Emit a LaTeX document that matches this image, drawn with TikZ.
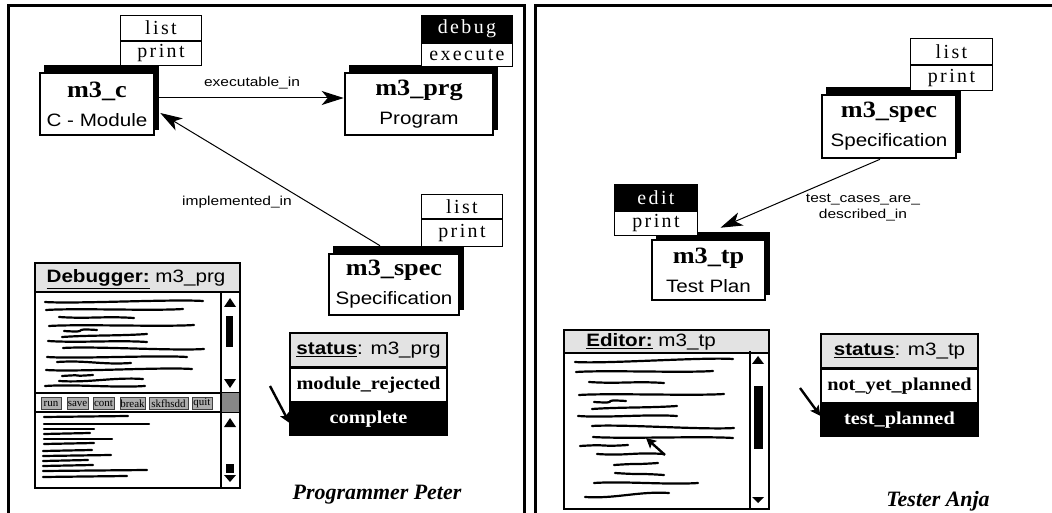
\documentclass[tikz,border=0pt]{standalone}
\usepackage{fontspec}
\setmainfont{Liberation Serif}
\setsansfont{Liberation Sans}[FakeStretch=1.15]
\newfontfamily\menufont{Liberation Serif}[LetterSpace=12]
\newfontfamily\objfont{Liberation Serif}[FakeStretch=1.12]
\newfontfamily\lblfont{Liberation Sans}[FakeStretch=1.2]
\usetikzlibrary{arrows.meta,backgrounds,calc}
\definecolor{titlegray}{gray}{0.89}
\definecolor{btngray}{gray}{0.68}
\definecolor{sqgray}{gray}{0.53}
\newcommand\objtitle[1]{{\objfont\bfseries\fontsize{23.5}{23.5}\selectfont #1}}
\newcommand\objkind[1]{{\sffamily\fontsize{18}{18}\selectfont #1}}
\newcommand\scrl[4]{\draw[scribble] (#1,#2) .. controls +(30,2) and +(-30,-2) .. (#3,#4);}
\newcommand\scrr[4]{\draw[scribble] (#1,#2) .. controls +(30,-2) and +(-30,2) .. (#3,#4);}
\begin{document}
\begin{tikzpicture}[x=1bp,y=-1bp,
  panel/.style={draw, line width=3bp},
  objbox/.style={draw, line width=2.6bp, fill=white, minimum width=#1, inner sep=0pt, align=center, font=\fontsize{18}{29}\selectfont},
  menuitem/.style={draw, line width=1bp, fill=white, text=black, minimum width=#1, minimum height=25bp, inner sep=0pt, anchor=north west, font=\menufont\fontsize{20}{20}\selectfont},
  menusel/.style={menuitem=#1, fill=black, text=white},
  conn/.style={line width=1bp, -{Stealth[length=22bp,width=14bp,inset=6bp]}},
  lbl/.style={font=\lblfont\fontsize{13}{17}\selectfont, anchor=base, align=center},
  ptr/.style={line width=2.4bp, -{Stealth[length=10bp,width=10bp,inset=2bp]}},
  sttitle/.style={draw, line width=1.2bp, fill=titlegray, minimum width=157bp, minimum height=34bp, inner sep=0pt, font=\sffamily\fontsize{18}{18}\selectfont},
  strow/.style={draw, line width=1.2bp, fill=white, text=black, minimum width=157bp, minimum height=33bp, inner sep=0pt, anchor=north, font=\objfont\bfseries\fontsize{18.2}{18.2}\selectfont},
  strowsel/.style={strow, fill=black, text=white},
  winframe/.style={draw, line width=2.6bp},
  windiv/.style={line width=1.4bp},
  wintitle/.style={font=\sffamily\fontsize{18}{18}\selectfont, inner sep=0pt},
  btn/.style={draw=black!75, line width=0.9bp, fill=btngray, minimum height=12bp, inner sep=0pt, font=\rmfamily\fontsize{11}{11}\selectfont},
  scribble/.style={line width=2.2bp, line cap=round},
  who/.style={font=\rmfamily\bfseries\itshape\fontsize{22}{22}\selectfont, anchor=base}
]
\useasboundingbox (0,0) rectangle (1052,513);
\begin{scope}
\clip (0,0) rectangle (1052,513);
% panels
\draw[panel] (8.7,6) rectangle (524.5,530);
\draw[panel] (535.5,6) rectangle (1070,530);

% ================= left panel =================
\node[objbox=114bp, minimum height=62bp] (mc) at (97,104) {\objtitle{m3\_c}\\\objkind{C - Module}};
\node[objbox=148bp, minimum height=62bp] (prg) at (419,104) {\objtitle{m3\_prg}\\\objkind{Program}};
\node[objbox=130bp, minimum height=61bp] (spec1) at (394,284.5) {\objtitle{m3\_spec}\\\objkind{Specification}};

\node[menuitem=81bp] (mclist) at (120,15) {list};
\node[menuitem=81bp, minimum height=24bp] (mcprint) at (mclist.south west) {print};
\node[menusel=91bp, minimum height=27bp] (prgdebug) at (421,15) {debug};
\node[menuitem=91bp, minimum height=23bp] (prgexec) at (prgdebug.south west) {execute};
\node[menuitem=81bp, minimum height=24bp] (s1list) at (421,194) {list};
\node[menuitem=81bp, minimum height=27bp] (s1print) at (s1list.south west) {print};

\draw[conn] ([xshift=2bp,yshift=6bp]mc.east) -- ([yshift=6bp]prg.west);
\node[lbl] (lexe) at (252,87) {executable\_in};
\draw[conn] ([xshift=-14bp,yshift=7bp]spec1.north) -- ([xshift=5bp,yshift=-9bp]mc.east);
\node[lbl] (limpl) at (237,206) {implemented\_in};

% debugger window
\fill[titlegray] (35,263) rectangle (240,292);
\draw[windiv] (35,292) -- (240,292);
\draw[windiv] (35,393) -- (240,393);
\draw[windiv] (35,412) -- (240,412);
\fill[sqgray] (221,393) rectangle (240,412);
\draw[line width=1.2bp] (221,292) -- (221,488);
\draw[winframe] (35,263) rectangle (240,488);
\node[wintitle] (dbgtitle) at (136,279) {\underline{\textbf{Debugger:}} m3\_prg};
\fill (224,307) -- (236,307) -- (230,298) -- cycle;
\fill (226,316) rectangle (233,347);
\fill (224,379) -- (236,379) -- (230,388) -- cycle;
\fill (224,427) -- (236,427) -- (230,418) -- cycle;
\fill (226,464) rectangle (234,473);
\fill (224,475) -- (236,475) -- (230,482) -- cycle;
\node[btn, minimum width=20bp] (brun) at (51,403.5) {run};
\node[btn, minimum width=21bp] (bsave) at (77.5,403.5) {save};
\node[btn, minimum width=21bp] (bcont) at (103.5,403.5) {cont};
\node[btn, minimum width=25bp] (bbreak) at (132.5,403.5) {break};
\node[btn, minimum width=39bp] (bskf) at (168.5,403.5) {skfhsdd};
\node[btn, minimum width=20bp] (bquit) at (202,403.5) {quit};
% upper pane scribbles
\scrl{45}{302}{203}{301}
\scrr{46}{310}{183}{309}
\scrl{59}{317}{134}{318}
\scrr{49}{326}{194}{325}
\scrl{64}{331}{97}{330}
\scrr{62}{337}{147}{334}
\scrl{48}{341}{147}{342}
\scrr{63}{348}{204}{349}
\scrl{47}{357}{187}{357}
\scrr{57}{362}{131}{363}
\scrl{46}{370}{192}{369}
\scrr{62}{376}{93}{375}
\scrl{59}{381}{143}{379}
\scrr{45}{386}{145}{386}
% lower pane scribbles
\draw[scribble] (44,417) -- (128,416);
\draw[scribble] (44,424) -- (149,424);
\draw[scribble] (44,429) -- (94,429);
\draw[scribble] (44,434) -- (90,433);
\draw[scribble] (44,439) -- (112,439);
\draw[scribble] (44,444) -- (94,443);
\draw[scribble] (43,451) -- (92,450);
\draw[scribble] (43,456) -- (111,455);
\draw[scribble] (43,461) -- (88,460);
\draw[scribble] (43,466) -- (93,465);
\draw[scribble] (43,471) -- (147,470);
\draw[scribble] (43,477) -- (127,476);

% status box left
\node[sttitle] (lst) at (368.5,350) {\underline{\textbf{status}}: m3\_prg};
\node[strow] (lrej) at (lst.south) {module\_rejected};
\node[strowsel] (lcomp) at (lrej.south) {complete};
\coordinate (lptr) at (270,386);
\draw[ptr] (lptr) -- ([yshift=-4bp]lcomp.west);

\node[who] (peter) at (377,499) {Programmer Peter};

% ================= right panel =================
\node[objbox=134bp, minimum height=63bp] (spec2) at (889,126.5) {\objtitle{m3\_spec}\\\objkind{Specification}};
\node[objbox=113bp, minimum height=60bp] (tp) at (708.5,270) {\objtitle{m3\_tp}\\\objkind{Test Plan}};
\node[menuitem=82bp, minimum height=26bp] (s2list) at (910,38) {list};
\node[menuitem=82bp, minimum height=25bp] (s2print) at (s2list.south west) {print};
\node[menusel=83bp, minimum height=26bp] (tpedit) at (614,184) {edit};
\node[menuitem=83bp, minimum height=24bp] (tpprint) at (tpedit.south west) {print};

\draw[conn] ([xshift=-9bp]spec2.south) -- ([xshift=12bp,yshift=11bp]tp.north);
\node[lbl] (ltest) at (863,219) {test\_cases\_are\_\\described\_in};

% editor window
\fill[titlegray] (564,330) rectangle (769,353);
\draw[windiv] (564,353) -- (769,353);
\draw[line width=1.2bp] (750,351) -- (750,509);
\draw[winframe] (564,330) rectangle (769,509);
\node[wintitle] (edtitle) at (651,342) {\underline{\textbf{Editor:}} m3\_tp};
\fill (752,364) -- (764,364) -- (758,356) -- cycle;
\fill (754,386) rectangle (763,449);
\fill (752,497) -- (764,497) -- (758,503) -- cycle;
\scrl{575}{362}{733}{359}
\scrr{576}{372}{713}{371}
\scrl{589}{382}{664}{383}
\scrr{579}{395}{724}{394}
\scrl{594}{402}{626}{401}
\scrr{592}{409}{677}{406}
\scrl{578}{416}{677}{416}
\scrr{592}{426}{734}{428}
\scrl{593}{437}{733}{438}
\scrr{580}{446}{628}{445}
\scrl{597}{454}{664}{454}
\scrr{614}{465}{658}{463}
\scrl{615}{473}{664}{475}
\scrr{594}{483}{698}{483}
\scrl{585}{497}{669}{493}
\coordinate (ecurA) at (665,455);
\coordinate (ecurB) at (646,438);
\draw[ptr] (ecurA) -- (ecurB);

% status box right
\node[sttitle] (rst) at (899.5,351) {\underline{\textbf{status}}: m3\_tp};
\node[strow] (rnyp) at (rst.south) {not\_yet\_planned};
\node[strowsel] (rtp) at (rnyp.south) {test\_planned};
\coordinate (rptr) at (800,388);
\draw[ptr] (rptr) -- ([yshift=4bp]rtp.west);

\node[who] (anja) at (938,506) {Tester Anja};

% shadows
\begin{scope}[on background layer]
\foreach \b in {mc,prg,spec1,spec2,tp}
  \fill ([xshift=5bp,yshift=7bp]\b.north west) rectangle ([xshift=4bp,yshift=6bp]\b.south east);
\end{scope}
\end{scope}
\end{tikzpicture}
\end{document}
